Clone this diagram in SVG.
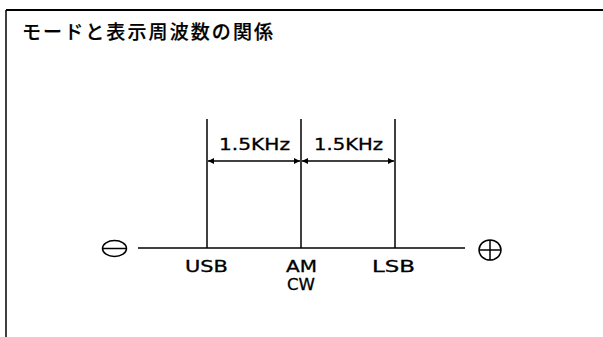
<svg xmlns="http://www.w3.org/2000/svg" width="603" height="337" viewBox="0 0 603 337">
<style>
.ln{stroke:#000;stroke-width:1.5;fill:none}
.t{font-family:"DejaVu Sans","Liberation Sans",Arial,sans-serif;font-size:15.5px;fill:#000;stroke:#000;stroke-width:0.3}
.jp{font-family:"Noto Sans CJK JP","Noto Sans",sans-serif;font-size:19px;font-weight:500;fill:#000;stroke:#000;stroke-width:0.2}
</style>
<defs>
<marker id="ah" viewBox="0 0 10 10" refX="10" refY="5" markerWidth="9" markerHeight="6" markerUnits="userSpaceOnUse" orient="auto">
<path d="M0,0 L10,5 L0,10 Z" fill="#000"/>
</marker>
</defs>
<rect width="603" height="337" fill="#fff"/>
<g id="frame">
<line x1="6" y1="10" x2="603" y2="10" stroke="#000" stroke-width="2"/>
<line x1="6" y1="10" x2="6" y2="337" stroke="#000" stroke-width="1.5"/>
</g>
<g id="title"><text class="jp" x="22" y="39" textLength="251" lengthAdjust="spacing">モードと表示周波数の関係</text></g>
<g id="connectors">
<line class="ln" x1="138" y1="248" x2="465" y2="248"/>
<line class="ln" x1="207" y1="119" x2="207" y2="248"/>
<line class="ln" x1="301" y1="119" x2="301" y2="248"/>
<line class="ln" x1="395" y1="119" x2="395" y2="248"/>
<line class="ln" x1="254" y1="161" x2="208" y2="161" marker-end="url(#ah)"/>
<line class="ln" x1="254" y1="161" x2="300" y2="161" marker-end="url(#ah)"/>
<line class="ln" x1="348" y1="161" x2="302" y2="161" marker-end="url(#ah)"/>
<line class="ln" x1="348" y1="161" x2="394" y2="161" marker-end="url(#ah)"/>
</g>
<g id="minus">
<ellipse class="ln" cx="114.5" cy="248.5" rx="12" ry="8"/>
<line class="ln" x1="103" y1="248.5" x2="126" y2="248.5"/>
</g>
<g id="plus">
<ellipse class="ln" cx="490" cy="250" rx="11" ry="10"/>
<line class="ln" x1="479" y1="250" x2="501" y2="250"/>
<line class="ln" x1="490" y1="240" x2="490" y2="260"/>
</g>
<g id="labels">
<text class="t" x="219" y="150" textLength="71" lengthAdjust="spacingAndGlyphs">1.5KHz</text>
<text class="t" x="314" y="150" textLength="69" lengthAdjust="spacingAndGlyphs">1.5KHz</text>
<text class="t" x="185" y="272" textLength="43" lengthAdjust="spacingAndGlyphs">USB</text>
<text class="t" x="286" y="272" textLength="31" lengthAdjust="spacingAndGlyphs">AM</text>
<text class="t" x="287" y="290" textLength="28" lengthAdjust="spacingAndGlyphs">CW</text>
<text class="t" x="372" y="272" textLength="43" lengthAdjust="spacingAndGlyphs">LSB</text>
</g>
</svg>
